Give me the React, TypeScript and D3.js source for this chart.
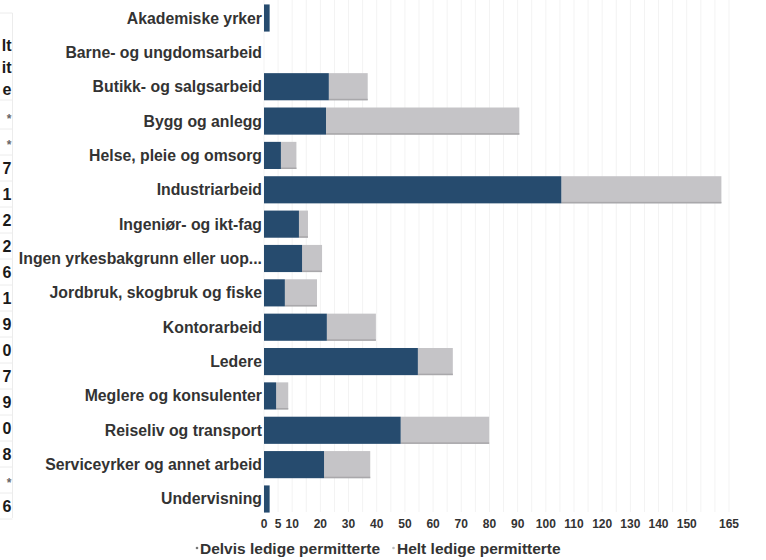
import React from 'react';
import * as d3 from 'd3';

const categories = [
  'Akademiske yrker',
  'Barne- og ungdomsarbeid',
  'Butikk- og salgsarbeid',
  'Bygg og anlegg',
  'Helse, pleie og omsorg',
  'Industriarbeid',
  'Ingeniør- og ikt-fag',
  'Ingen yrkesbakgrunn eller uop...',
  'Jordbruk, skogbruk og fiske',
  'Kontorarbeid',
  'Ledere',
  'Meglere og konsulenter',
  'Reiseliv og transport',
  'Serviceyrker og annet arbeid',
  'Undervisning',
];
const delvis = [2, 0, 23, 22, 6, 105.5, 12.4, 13.5, 7.4, 22.3, 54.6, 4.3, 48.5, 21.3, 2];
const helt = [0, 0, 13.8, 68.6, 5.5, 56.8, 3.2, 7.1, 11.4, 17.4, 12.4, 4.3, 31.4, 16.4, 0];
const seriesNames = ['Delvis ledige permitterte', 'Helt ledige permitterte'];
const tickValues = [0, 5, 10, 20, 30, 40, 50, 60, 70, 80, 90, 100, 110, 120, 130, 140, 150, 165];
const sideHeader = ['lt', 'it', 'e'];
const sideValues = ['*', '*', '7', '1', '2', '2', '6', '1', '9', '0', '7', '9', '0', '8', '*', '6'];

const W = 766;
const H = 560;
const DARK = '#264b6e';
const GREY = '#c5c4c7';
const TEXT = '#333333';
const FONT = '"Liberation Sans", Arial, Helvetica, sans-serif';

export default function App() {
  const x = d3.scaleLinear().domain([0, 165]).range([264, 729]);
  const y = d3.scaleBand().domain(categories).range([1, 516]).paddingInner(0.21).paddingOuter(0.1);
  const gridTicks = d3.range(0, 166, 5);
  const sideY = d3.scaleLinear().domain([0, sideValues.length - 1]).range([116, 506]);

  return (
    <div style={{ position: 'fixed', left: 0, top: 0, width: W, height: H, background: '#fff' }}>
      <svg width={W} height={H} style={{ display: 'block', fontFamily: FONT }}>
        {/* faint grid */}
        {gridTicks.map((t) => (
          <line key={t} x1={x(t)} x2={x(t)} y1={0} y2={512} stroke="#f3f3f3" strokeWidth={1} />
        ))}

        {/* clipped table on the left */}
        <g>
          <line x1={12.5} x2={12.5} y1={13} y2={518} stroke="#ececec" />
          <line x1={0} x2={12.5} y1={13} y2={13} stroke="#ececec" />
          <line x1={0} x2={12.5} y1={100} y2={100} stroke="#ececec" />
          {sideValues.map((v, i) => (
            <line key={'l' + i} x1={0} x2={12.5} y1={sideY(i) + 13} y2={sideY(i) + 13} stroke="#ececec" />
          ))}
          {sideHeader.map((t, i) => (
            <text key={'h' + i} x={11.5} y={45 + i * 22} textAnchor="end" dominantBaseline="central"
              fontSize={16} fontWeight="bold" fill="#1a1a1a">{t}</text>
          ))}
          {sideValues.map((v, i) => (
            <text key={'v' + i} x={11.5} y={sideY(i) + (v === '*' ? 3 : 0)} textAnchor="end" dominantBaseline="central"
              fontSize={v === '*' ? 12 : 16} fontWeight="bold" fill={v === '*' ? '#666' : '#1a1a1a'}>{v}</text>
          ))}
        </g>

        {/* bars */}
        {categories.map((c, i) => {
          const y0 = y(c)!;
          const bh = y.bandwidth();
          const d = delvis[i];
          const h = helt[i];
          return (
            <g key={c}>
              {h > 0 && (
                <>
                  <rect x={x(d)} y={y0} width={x(d + h) - x(d)} height={bh} fill={GREY} />
                  <rect x={x(d)} y={y0 + bh - 1.5} width={x(d + h) - x(d)} height={1.5} fill="#a9a8ab" />
                </>
              )}
              {d > 0 && <rect x={x(0)} y={y0} width={x(d) - x(0)} height={bh} fill={DARK} />}
              <text x={262} y={y0 + bh / 2} textAnchor="end" dominantBaseline="central"
                fontSize={15.8} fontWeight="bold" fill={TEXT}>{c}</text>
            </g>
          );
        })}

        {/* axis labels */}
        {tickValues.map((t) => (
          <text key={t} x={x(t)} y={524} textAnchor="middle" dominantBaseline="central"
            fontSize={12} fontWeight="bold" fill={TEXT}>{t}</text>
        ))}

        {/* legend */}
        <g>
          <circle cx={197} cy={548} r={1.3} fill="#777" />
          <text x={200} y={548} dominantBaseline="central" fontSize={15.5} fontWeight="bold" fill={TEXT}>{seriesNames[0]}</text>
          <circle cx={393.5} cy={548} r={1.3} fill="#bbb" />
          <text x={397} y={548} dominantBaseline="central" fontSize={15.5} fontWeight="bold" fill={TEXT}>{seriesNames[1]}</text>
        </g>
      </svg>
    </div>
  );
}
